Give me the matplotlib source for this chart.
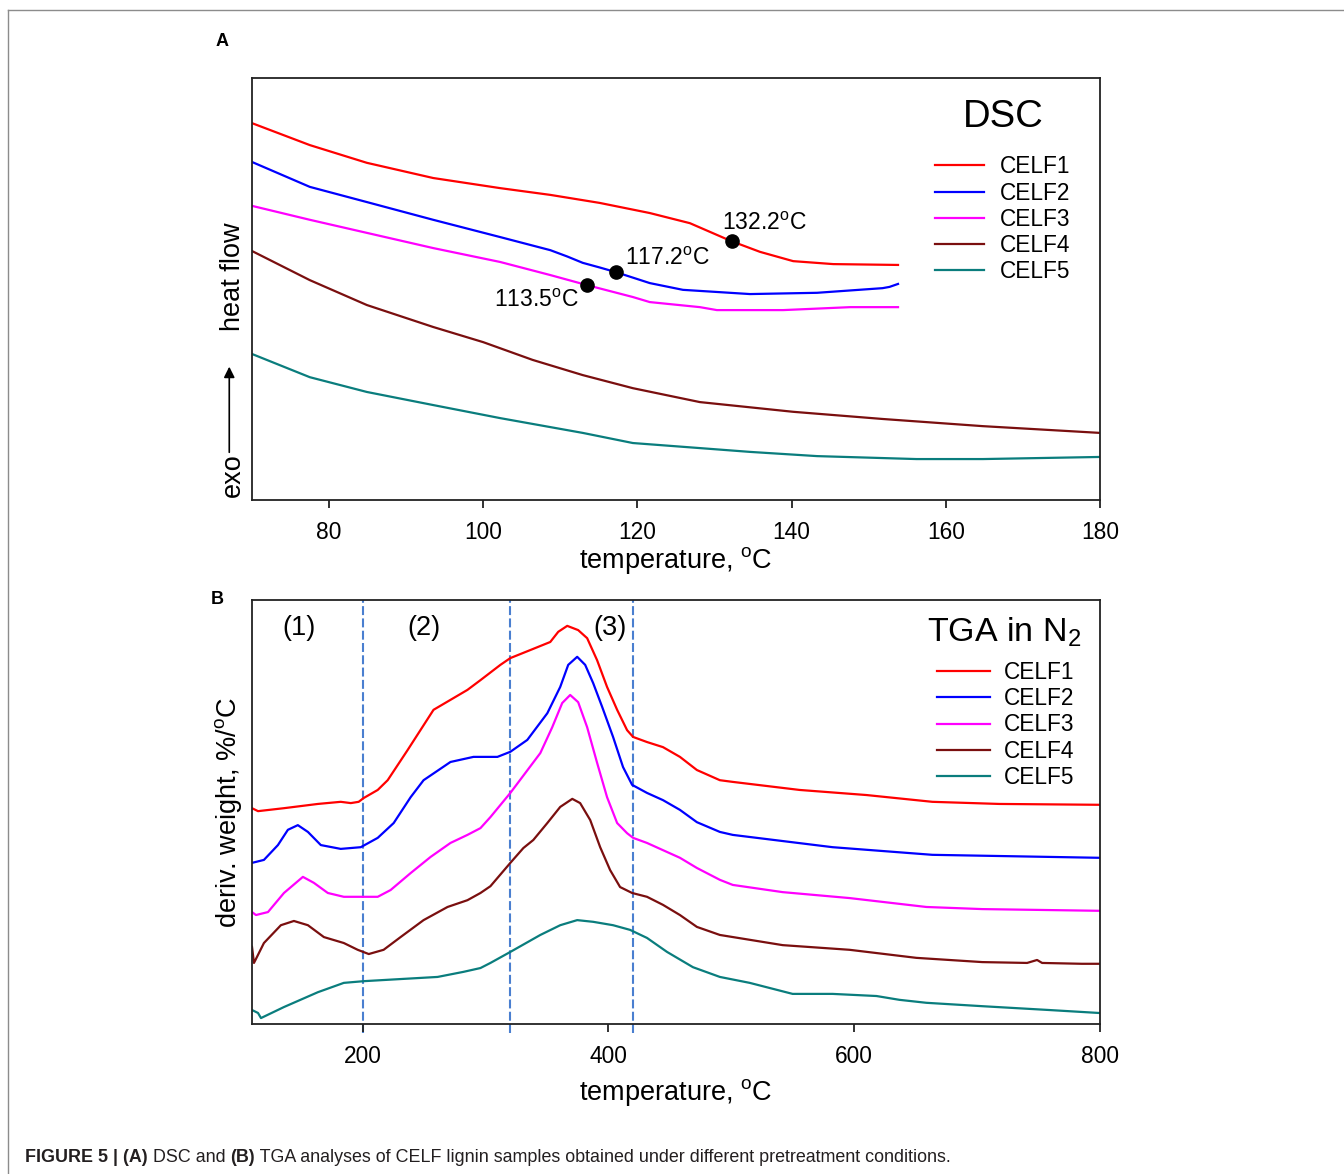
import numpy as np
import matplotlib
matplotlib.use("Agg")
import matplotlib.pyplot as plt
from matplotlib.lines import Line2D
from matplotlib.transforms import blended_transform_factory

plt.rcParams['font.family'] = ['Liberation Sans', 'DejaVu Sans']
plt.rcParams['mathtext.fontset'] = 'custom'
plt.rcParams['mathtext.rm'] = 'Liberation Sans'
plt.rcParams['mathtext.it'] = 'Liberation Sans:italic'

labels = ['CELF1', 'CELF2', 'CELF3', 'CELF4', 'CELF5']
colors = ['#ff0000', '#0000ff', '#ff00ff', '#7a0f0f', '#0a7d7d']

# ---- panel A: DSC (heat flow, arbitrary units) ----
dsc_t1 = [70, 77.5, 84.9, 93.5, 102.2, 108.7, 115.1, 121.6, 126.8, 132.1, 135.9, 140.2, 145.4, 153.8]
dsc_h1 = [89.3, 84.1, 79.9, 76.3, 73.9, 72.3, 70.4, 68.0, 65.6, 61.4, 58.8, 56.6, 55.9, 55.7]
dsc_t2 = [70, 77.5, 84.9, 93.5, 102.2, 108.7, 110.9, 112.9, 115.1, 117.2, 121.6, 125.9, 134.6, 143.3,
          151.8, 152.7, 153.8]
dsc_h2 = [80.1, 74.2, 70.6, 66.4, 62.3, 59.2, 57.7, 56.2, 55.1, 54.0, 51.4, 49.8, 48.8, 49.1,
          50.2, 50.5, 51.2]
dsc_t3 = [70, 77.5, 84.9, 93.5, 102.2, 108.7, 113.5, 119.4, 121.6, 128.1, 130.3, 138.9, 147.6, 153.8]
dsc_h3 = [69.7, 66.4, 63.3, 59.7, 56.4, 53.3, 50.9, 48.1, 46.9, 45.7, 45.0, 45.0, 45.7, 45.7]
dsc_t4 = [70, 77.5, 84.9, 93.5, 100, 106.4, 112.9, 119.4, 128.1, 140.2, 151.8, 164.8, 180]
dsc_h4 = [59.0, 52.1, 46.2, 41.0, 37.4, 33.2, 29.6, 26.5, 23.2, 20.9, 19.2, 17.5, 15.9]
dsc_t5 = [70, 77.5, 84.9, 93.5, 102.2, 112.9, 119.4, 128.1, 134.6, 143.3, 156.2, 164.8, 180]
dsc_h5 = [34.6, 29.1, 25.6, 22.5, 19.4, 15.9, 13.5, 12.3, 11.4, 10.4, 9.7, 9.7, 10.2]

# glass transition points (series index, temperature)
tg_series = [0, 1, 2]
tg_temps = [132.2, 117.2, 113.5]

# ---- panel B: TGA derivative weight (offset curves, arbitrary units) ----
tga_t1 = [110, 114.9, 136.0, 163.6, 182.2, 190.4, 196.8, 200.9, 212.3, 220.4, 236.6, 257.7, 285.3, 295.9,
          312.1, 320.2, 336.5, 352.7, 359.2, 366.5, 375.4, 382.7, 390.8, 398.9, 407.1, 415.2, 420.1,
          431.4, 444.4, 458.2, 472.0, 490.7, 501.2, 555.6, 610.0, 663.6, 718.0, 799.2]
tga_d1 = [50.9, 50.2, 50.9, 51.9, 52.4, 52.1, 52.4, 53.3, 55.2, 57.5, 64.6, 74.1, 78.8, 81.1,
          84.7, 86.3, 88.2, 90.1, 92.5, 93.9, 92.9, 91.0, 85.8, 79.5, 74.1, 69.3, 67.7,
          66.5, 65.3, 63.0, 59.9, 57.5, 57.1, 55.2, 54.0, 52.4, 51.9, 51.7]
tga_t2 = [110, 119.7, 131.1, 139.2, 147.3, 155.5, 166.0, 182.2, 198.5, 212.3, 225.3, 239.1, 249.6, 271.5,
          290.2, 309.7, 320.2, 334.0, 350.3, 360.8, 367.3, 374.6, 381.1, 387.6, 394.9, 403.8, 411.9,
          419.3, 431.4, 444.4, 458.2, 472.0, 490.7, 501.2, 582.4, 663.6, 799.2]
tga_d2 = [38.0, 38.7, 42.2, 45.8, 46.9, 45.3, 42.2, 41.3, 41.7, 43.9, 47.4, 53.5, 57.5, 61.8,
          63.0, 63.0, 64.2, 67.0, 73.3, 79.5, 84.7, 86.6, 84.7, 80.4, 74.8, 67.7, 60.6,
          56.4, 54.5, 52.8, 50.5, 47.6, 45.3, 44.6, 41.7, 39.9, 39.2]
tga_t3 = [110, 113.2, 123.0, 136.0, 151.4, 160.3, 171.7, 184.7, 198.5, 212.3, 222.8, 239.1, 255.3, 271.5,
          285.3, 295.9, 304.0, 320.2, 344.6, 354.3, 362.4, 368.9, 375.4, 382.7, 390.8, 398.9, 407.1,
          415.2, 420.1, 431.4, 444.4, 458.2, 472.0, 490.7, 501.2, 541.8, 596.2, 658.7, 704.2, 799.2]
tga_d3 = [26.4, 25.7, 26.4, 30.9, 34.7, 33.3, 30.9, 30.0, 30.0, 30.0, 31.6, 35.6, 39.4, 42.7,
          44.6, 46.2, 48.8, 54.5, 63.9, 70.0, 75.7, 77.6, 75.9, 70.0, 61.6, 53.5, 47.4,
          45.0, 43.9, 42.7, 41.0, 39.2, 36.8, 34.0, 32.8, 31.1, 29.7, 27.6, 27.1, 26.7]
tga_t4 = [110, 111.6, 119.7, 133.5, 144.1, 155.5, 168.5, 184.7, 196.0, 205.0, 217.1, 230.9, 249.6, 269.1,
          285.3, 295.9, 304.0, 320.2, 330.8, 338.9, 350.3, 360.8, 370.6, 377.0, 385.2, 393.3, 401.4,
          409.5, 419.3, 431.4, 444.4, 458.2, 472.0, 490.7, 541.8, 596.2, 650.6, 704.2, 740.7, 748.8,
          752.9, 785.3, 799.2]
tga_d4 = [18.2, 14.4, 19.1, 23.3, 24.3, 23.3, 20.5, 19.1, 17.5, 16.5, 17.5, 20.5, 24.5, 27.6,
          29.2, 30.9, 32.5, 38.0, 41.5, 43.4, 47.4, 51.2, 53.1, 52.1, 48.1, 41.7, 36.3,
          32.3, 30.9, 30.0, 28.1, 25.7, 22.9, 21.0, 18.6, 17.5, 15.6, 14.6, 14.4, 15.1,
          14.4, 14.2, 14.2]
tga_t5 = [110, 114.9, 117.3, 136.0, 163.6, 184.7, 200.9, 230.9, 261.0, 282.1, 295.9, 304.0, 320.2, 344.6,
          360.8, 374.6, 387.6, 403.8, 417.6, 431.4, 447.7, 468.8, 490.7, 515.0, 549.9, 582.4, 618.1,
          636.8, 658.7, 704.2, 758.5, 799.2]
tga_d5 = [3.3, 2.6, 1.4, 4.0, 7.5, 9.7, 10.1, 10.6, 11.1, 12.3, 13.2, 14.4, 17.0, 21.0,
          23.3, 24.5, 24.1, 23.3, 22.2, 20.3, 17.0, 13.4, 11.1, 9.7, 7.1, 7.1, 6.6,
          5.7, 5.0, 4.2, 3.3, 2.6]

stage_bounds = [200, 320, 420]
stage_labels = ['(1)', '(2)', '(3)']
stage_label_x = [148, 250, 401]

dsc_t = [dsc_t1, dsc_t2, dsc_t3, dsc_t4, dsc_t5]
dsc_h = [dsc_h1, dsc_h2, dsc_h3, dsc_h4, dsc_h5]
tga_t = [tga_t1, tga_t2, tga_t3, tga_t4, tga_t5]
tga_d = [tga_d1, tga_d2, tga_d3, tga_d4, tga_d5]

W, H = 1344, 1174
fig = plt.figure(figsize=(W / 100, H / 100), dpi=100)

# outer frame
fig.add_artist(Line2D([8 / W, 8 / W], [0, 1 - 10 / H], color='#8c8c8c', lw=1.0))
fig.add_artist(Line2D([8 / W, 1], [1 - 10 / H, 1 - 10 / H], color='#8c8c8c', lw=1.0))

axA = fig.add_axes([252 / W, 1 - 500 / H, 848 / W, 422 / H])
axB = fig.add_axes([252 / W, 1 - 1024 / H, 848 / W, 424 / H])

for ax in (axA, axB):
    for sp in ax.spines.values():
        sp.set_linewidth(1.3)
        sp.set_color('#222222')
    ax.set_yticks([])
    ax.tick_params(axis='x', direction='out', length=6, width=1.3, pad=9,
                   labelsize=16.4, colors='#222222', labelcolor='black')
    ax.set_ylim(0, 100)

# ---- A ----
for t, h, c, lab in zip(dsc_t, dsc_h, colors, labels):
    axA.plot(t, h, color=c, lw=1.6, label=lab)
axA.set_xlim(70, 180)
axA.set_xticks([80, 100, 120, 140, 160, 180])

tg_text = ['132.2$^{\\rm o}$C', '117.2$^{\\rm o}$C', '113.5$^{\\rm o}$C']
tg_off = [(-6.5, 13), (6.5, 10), (-6.5, -11)]
tg_ha = ['left', 'left', 'right']
for i, tg, txt, off, ha in zip(tg_series, tg_temps, tg_text, tg_off, tg_ha):
    yv = np.interp(tg, dsc_t[i], dsc_h[i])
    axA.plot([tg], [yv], 'o', color='black', ms=9.5, zorder=5)
    axA.annotate(txt, xy=(tg, yv), xytext=off, textcoords='offset points',
                 ha=ha, va='center', fontsize=16.5)

axA.text(0.886, 0.885, 'DSC', transform=axA.transAxes, ha='center', va='baseline', fontsize=27.5)
axA.legend(loc='upper left', bbox_to_anchor=(0.805, 0.817), frameon=False, fontsize=16.3,
           handlelength=2.2, handletextpad=0.66, labelspacing=0.145, borderpad=0, borderaxespad=0)

axA.text(0.5, -0.144, 'temperature, $^{\\rm o}$C', transform=axA.transAxes,
         ha='center', va='center', fontsize=19.5)
axA.text(-0.0224, 0.058, 'exo', transform=axA.transAxes, rotation=90,
         ha='center', va='center', fontsize=19.5)
axA.text(-0.0224, 0.528, 'heat flow', transform=axA.transAxes, rotation=90,
         ha='center', va='center', fontsize=19.5)
axA.annotate('', xy=(-0.0268, 0.316), xytext=(-0.0268, 0.113), xycoords='axes fraction',
             arrowprops=dict(arrowstyle='-|>', color='black', lw=1.2, mutation_scale=16,
                             shrinkA=0, shrinkB=0), annotation_clip=False)
fig.text(222 / W, 1 - 42 / H, 'A', ha='center', va='center', fontsize=13, fontweight='bold')

# ---- B ----
for t, d, c, lab in zip(tga_t, tga_d, colors, labels):
    axB.plot(t, d, color=c, lw=1.6, label=lab)
axB.set_xlim(110, 800)
axB.set_xticks([200, 400, 600, 800])

for xb in stage_bounds:
    axB.axvline(xb, ymin=-0.022, ymax=1, color='#4a7fd0', lw=1.5,
                linestyle=(0, (4.3, 1.6)), clip_on=False, zorder=1)
tr = blended_transform_factory(axB.transData, axB.transAxes)
for xs, s in zip(stage_label_x, stage_labels):
    axB.text(xs, 0.935, s, transform=tr, ha='center', va='center', fontsize=19.5)

axB.text(0.796, 0.903, 'TGA in N$_2$', transform=axB.transAxes, ha='left', va='baseline', fontsize=24.5)
axB.legend(loc='upper left', bbox_to_anchor=(0.808, 0.857), frameon=False, fontsize=16.3,
           handlelength=2.35, handletextpad=0.58, labelspacing=0.15, borderpad=0, borderaxespad=0)

axB.text(0.5, -0.161, 'temperature, $^{\\rm o}$C', transform=axB.transAxes,
         ha='center', va='center', fontsize=19.5)
axB.text(-0.0283, 0.5, 'deriv. weight, %/$^{\\rm o}$C', transform=axB.transAxes, rotation=90,
         ha='center', va='center', fontsize=19.5)
fig.text(217 / W, 1 - 600 / H, 'B', ha='center', va='center', fontsize=13, fontweight='bold')

# ---- caption ----
cap_parts = [('FIGURE 5 | (A)', 'bold'), (' DSC and ', 'normal'), ('(B)', 'bold'),
             (' TGA analyses of CELF lignin samples obtained under different pretreatment conditions.', 'normal')]
fig.canvas.draw()
rend = fig.canvas.get_renderer()
xc = 25
for s, w in cap_parts:
    tt = fig.text(xc / W, 1 - 1157 / H, s, ha='left', va='center', fontsize=12.9, fontweight=w,
                  color='#231f20')
    bb = tt.get_window_extent(renderer=rend)
    xc = bb.x1

fig.savefig('out.png', dpi=100)
